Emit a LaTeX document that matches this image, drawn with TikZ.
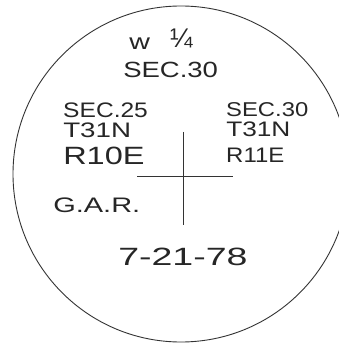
\documentclass[tikz,border=0pt]{standalone}
\usepackage{fontspec}
\setmainfont{Liberation Sans}
\begin{document}
\begin{tikzpicture}[x=1pt,y=-1pt,
  ink/.style={draw=black!80, line width=0.9pt},
  lbl/.style={anchor=base west, inner sep=0pt, text=black!85, transform shape}]
\useasboundingbox[fill=white] (0,0) rectangle (338,344);
\coordinate (ctr) at (181,174);
\draw[ink] (ctr) circle (168pt);
% cross
\coordinate (vt) at (183,132);
\coordinate (vb) at (183,225);
\coordinate (hl) at (137,176);
\coordinate (hr) at (233,176);
\draw[ink] (vt) -- (vb);
\draw[ink] (hl) -- (hr);
% labels
\node[lbl, font=\fontsize{22}{22}\selectfont, xscale=1.3] (w) at (129,50) {w};
\node[lbl, font=\fontsize{27}{27}\selectfont] (q) at (170,48) {¼};
\node[lbl, font=\fontsize{22}{22}\selectfont, xscale=1.25] (s30top) at (123,78) {SEC.30};
\node[lbl, font=\fontsize{21}{21}\selectfont, xscale=1.17] (s25) at (63,118) {SEC.25};
\node[lbl, font=\fontsize{21}{21}\selectfont, xscale=1.32] (tl) at (63,138) {T31N};
\node[lbl, font=\fontsize{25}{25}\selectfont, xscale=1.3] (rl) at (63,165) {R10E};
\node[lbl, font=\fontsize{20}{20}\selectfont, xscale=1.19] (s30r) at (226,117) {SEC.30};
\node[lbl, font=\fontsize{21}{21}\selectfont, xscale=1.25] (tr) at (226,137) {T31N};
\node[lbl, font=\fontsize{21}{21}\selectfont, xscale=1.14] (rr) at (226,163) {R11E};
\node[lbl, font=\fontsize{21}{21}\selectfont, xscale=1.38] (gar) at (53,212) {G.A.R.};
\node[lbl, font=\fontsize{25}{25}\selectfont, xscale=1.5] (date) at (118,265) {7-21-78};
\end{tikzpicture}
\end{document}
